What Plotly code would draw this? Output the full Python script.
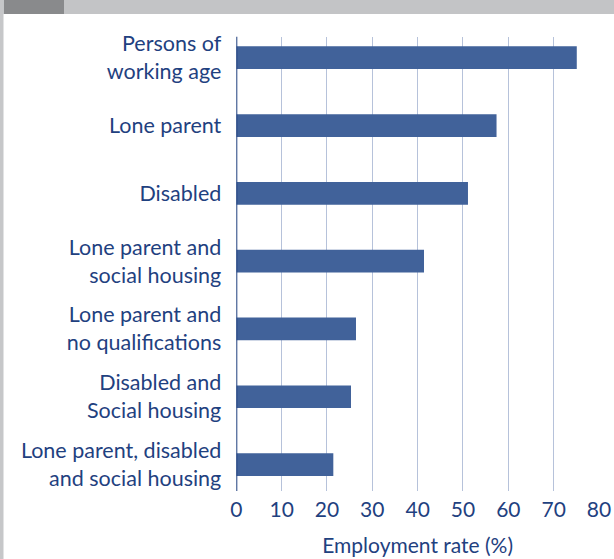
import plotly.graph_objects as go

# Employment rate by group (%)
categories = [
    "Persons of<br>working age",
    "Lone parent",
    "Disabled",
    "Lone parent and<br>social housing",
    "Lone parent and<br>no qualifications",
    "Disabled and<br>Social housing",
    "Lone parent, disabled<br>and social housing",
]
rates = [75.1, 57.4, 51.1, 41.4, 26.4, 25.3, 21.4]
x_ticks = [0, 10, 20, 30, 40, 50, 60, 70, 80]

W, H = 614, 559
BAR = "#41629a"
TEXT = "#1f4180"
FONT = "Lato"

fig = go.Figure(
    go.Bar(
        x=rates,
        y=categories,
        orientation="h",
        marker=dict(color=BAR, line=dict(width=0)),
        width=0.335,
        hoverinfo="skip",
    )
)

# plot area position within the page (pixels)
left, right, top, bottom = 236.3, 599.0, 36.7, 491.0

fig.update_layout(
    width=W,
    height=H,
    margin=dict(l=0, r=0, t=0, b=0, autoexpand=False),
    paper_bgcolor="white",
    plot_bgcolor="white",
    showlegend=False,
    font=dict(family=FONT, color=TEXT, size=21),
    xaxis=dict(
        domain=[left / W, right / W],
        range=[0, 80],
        tickvals=x_ticks,
        ticktext=[str(v) for v in x_ticks],
        showgrid=True,
        gridcolor="#b6c2da",
        gridwidth=1.3,
        zeroline=False,
        showline=False,
        ticks="",
        ticklabelstandoff=4,
        tickfont=dict(size=21, color=TEXT),
        title=dict(text="Employment rate (%)", font=dict(size=21, color=TEXT), standoff=18),
        fixedrange=True,
    ),
    yaxis=dict(
        domain=[1 - bottom / H, 1 - top / H],
        categoryorder="array",
        categoryarray=categories,
        range=[6.39, -0.31],
        showgrid=False,
        zeroline=False,
        showline=False,
        ticks="",
        ticklabelstandoff=14,
        tickfont=dict(size=21.5, color=TEXT),
        fixedrange=True,
    ),
    shapes=[
        # zero axis line
        dict(type="line", xref="x", yref="paper", x0=0, x1=0,
             y0=1 - bottom / H, y1=1 - top / H,
             line=dict(color="#1f3f7e", width=2)),
        # header band
        dict(type="rect", xref="paper", yref="paper", x0=0, x1=1,
             y0=1 - 14 / H, y1=1, fillcolor="#c3c4c6", line=dict(width=0), layer="above"),
        dict(type="rect", xref="paper", yref="paper", x0=4 / W, x1=64 / W,
             y0=1 - 14 / H, y1=1, fillcolor="#898a8c", line=dict(width=0), layer="above"),
        # left edge rule
        dict(type="rect", xref="paper", yref="paper", x0=0, x1=3.5 / W,
             y0=0, y1=1, fillcolor="#c6c7c9", line=dict(width=0), layer="above"),
    ],
)

fig.write_html("out.html", config={"displayModeBar": False})
